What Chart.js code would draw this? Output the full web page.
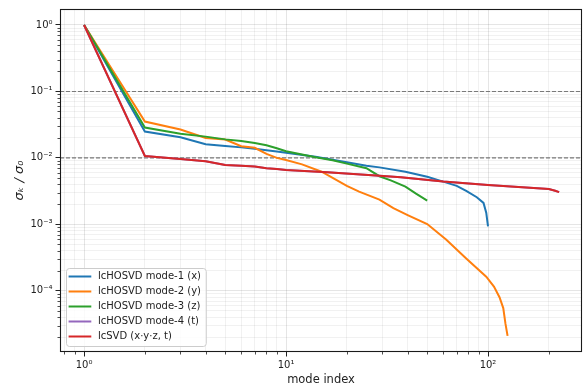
<!DOCTYPE html>
<html>
<head>
<meta charset="utf-8">
<script src="https://cdn.jsdelivr.net/npm/chart.js@4.4.1/dist/chart.umd.min.js"></script>
<style>
  html, body { margin: 0; padding: 0; background: #fff; }
  #wrap { width: 585px; height: 389px; }
</style>
</head>
<body>
<div id="wrap"><canvas id="chart"></canvas></div>
<script>
// normalised singular values
const mode1Idx = [1, 2, 3, 4, 5, 6, 7, 8, 9, 10, 14, 20, 25, 29, 39, 50, 60, 70, 78, 88, 95, 98, 100];
const mode1Val = [1.0, 0.0249, 0.0205, 0.0161, 0.0151, 0.0144, 0.0137, 0.0130, 0.0125, 0.0120, 0.0104, 0.0086, 0.0076, 0.0072, 0.0062, 0.0052, 0.0044, 0.0038, 0.0032, 0.00256, 0.0021, 0.0015, 0.00093];

const mode2Idx = [1, 2, 3, 4, 5, 6, 7, 8, 9, 10, 12, 15, 20, 23, 29, 34, 40, 50, 62, 78, 98, 107, 114, 119, 122, 125];
const mode2Val = [1.0, 0.0352, 0.0268, 0.0200, 0.0189, 0.0150, 0.0142, 0.0115, 0.0100, 0.0093, 0.0080, 0.0062, 0.0038, 0.0031, 0.00236, 0.00175, 0.00138, 0.00101, 0.00059, 0.000306, 0.000163, 0.000116, 0.00008, 0.000055, 0.000032, 0.000021];

const mode3Idx = [1, 2, 3, 4, 5, 6, 7, 8, 9, 10, 14, 17, 20, 25, 29, 33, 39, 44, 50];
const mode3Val = [1.0, 0.0286, 0.0230, 0.0209, 0.0190, 0.0180, 0.0168, 0.0155, 0.0140, 0.0126, 0.0102, 0.0092, 0.0082, 0.0070, 0.0053, 0.0046, 0.0037, 0.0029, 0.00228];

const svdIdx = [1, 2, 3, 4, 5, 6, 7, 8, 9, 10, 16, 29, 37, 60, 100, 200, 215, 225];
const svdVal = [1.0, 0.0107, 0.0096, 0.0089, 0.0078, 0.0076, 0.0074, 0.0070, 0.0068, 0.0066, 0.0061, 0.0054, 0.0051, 0.0044, 0.0039, 0.0034, 0.0032, 0.00305];

// mode-4 (t) unfolding has the same spectrum as lcSVD, so it sits under the red line
const mode4Idx = svdIdx;
const mode4Val = svdVal;

const seriesLabels = ['lcHOSVD mode-1 (x)', 'lcHOSVD mode-2 (y)', 'lcHOSVD mode-3 (z)', 'lcHOSVD mode-4 (t)', 'lcSVD (x\u00b7y\u00b7z, t)'];
const seriesColors = ['#1f77b4', '#ff7f0e', '#2ca02c', '#9467bd', '#d62728'];

const thresholds = [1e-1, 1e-2];

const xMajorTicks = [1, 10, 100];
const yMajorTicks = [1e-5, 1e-4, 1e-3, 1e-2, 1e-1, 1];
const xRange = [0.76, 292];
const yRange = [1.2e-5, 1.74];

const supers = { '-': '\u207b', '0': '\u2070', '1': '\u00b9', '2': '\u00b2', '3': '\u00b3', '4': '\u2074', '5': '\u2075' };
function powLabel(v) {
  const e = String(Math.round(Math.log10(v)));
  return '10' + e.split('').map(c => supers[c]).join('');
}

function toPoints(idx, val) {
  return idx.map((k, i) => ({ x: k, y: val[i] }));
}

// major + minor ticks on a log axis
function logTicks(majors, min, max) {
  const out = [];
  const lo = Math.floor(Math.log10(min)), hi = Math.ceil(Math.log10(max));
  for (let e = lo; e <= hi; e++) {
    for (let m = 1; m < 10; m++) {
      const v = m * Math.pow(10, e);
      if (v >= min && v <= max) {
        out.push({ value: v, major: m === 1 && majors.some(t => Math.abs(t - v) / v < 1e-9) });
      }
    }
  }
  return out;
}

const lineSets = [
  [mode1Idx, mode1Val], [mode2Idx, mode2Val], [mode3Idx, mode3Val], [mode4Idx, mode4Val], [svdIdx, svdVal]
].map(([idx, val], i) => ({
  label: seriesLabels[i],
  data: toPoints(idx, val),
  borderColor: seriesColors[i],
  backgroundColor: seriesColors[i],
  borderWidth: 2,
  pointRadius: 0,
  fill: false,
  order: 5 - i, // later series on top, like matplotlib
}));

const dashSets = thresholds.map(t => ({
  label: '',
  data: [{ x: xRange[0], y: t }, { x: xRange[1], y: t }],
  borderColor: '#7a7a7a',
  borderWidth: 1.1,
  borderDash: [4, 2],
  pointRadius: 0,
  fill: false,
  order: 10,
}));

const framePlugin = {
  id: 'frame',
  afterDraw(chart) {
    const { ctx, chartArea: a } = chart;
    ctx.save();

    // short minor ticks
    ctx.strokeStyle = '#222';
    ctx.lineWidth = 0.8;
    ctx.beginPath();
    chart.scales.x.ticks.forEach(t => {
      if (t.major) return;
      const px = Math.round(chart.scales.x.getPixelForValue(t.value)) + 0.5;
      ctx.moveTo(px, a.bottom);
      ctx.lineTo(px, a.bottom + 2.5);
    });
    chart.scales.y.ticks.forEach(t => {
      if (t.major) return;
      const py = Math.round(chart.scales.y.getPixelForValue(t.value)) + 0.5;
      ctx.moveTo(a.left, py);
      ctx.lineTo(a.left - 2.5, py);
    });
    ctx.stroke();

    ctx.strokeStyle = '#1a1a1a';
    ctx.lineWidth = 1.1;
    ctx.strokeRect(a.left + 0.5, a.top + 0.5, a.right - a.left - 1, a.bottom - a.top - 1);

    // legend, lower left inside the axes
    ctx.font = '10px "DejaVu Sans"';
    const textW = Math.max(...seriesLabels.map(s => ctx.measureText(s).width));
    const rowH = 15;
    const boxW = 2.6 + 22.7 + 7 + textW + 4.5;
    const boxH = rowH * seriesLabels.length + 3;
    const bx = a.left + 6, by = a.bottom - 6 - boxH;
    ctx.fillStyle = 'rgba(255,255,255,0.8)';
    ctx.strokeStyle = '#cccccc';
    ctx.lineWidth = 1;
    ctx.beginPath();
    ctx.roundRect(bx + 0.5, by + 0.5, boxW, boxH, 3);
    ctx.fill();
    ctx.stroke();
    seriesLabels.forEach((s, i) => {
      const cy = by + 8.5 + i * rowH;
      ctx.strokeStyle = seriesColors[i];
      ctx.lineWidth = 2;
      ctx.beginPath();
      ctx.moveTo(bx + 2.6, cy);
      ctx.lineTo(bx + 25.3, cy);
      ctx.stroke();
      ctx.fillStyle = '#222';
      ctx.textBaseline = 'middle';
      ctx.fillText(s, bx + 32, cy);
    });
    ctx.restore();
  }
};

const gridColor = (c) => c.tick && c.tick.major ? 'rgba(0,0,0,0.1)' : 'rgba(0,0,0,0.055)';
const tickColor = (c) => c.tick && c.tick.major ? '#222' : 'rgba(0,0,0,0)';

new Chart(document.getElementById('chart'), {
  type: 'line',
  data: { datasets: [...lineSets, ...dashSets] },
  options: {
    responsive: true,
    maintainAspectRatio: false,
    animation: false,
    layout: { padding: { top: 9, right: 3, left: 0, bottom: 0 } },
    plugins: {
      legend: { display: false },
      tooltip: { enabled: false },
    },
    scales: {
      x: {
        type: 'logarithmic',
        min: xRange[0],
        max: xRange[1],
        afterBuildTicks: (s) => { s.ticks = logTicks(xMajorTicks, xRange[0], xRange[1]); },
        afterFit: (s) => { s.height = 37; },
        grid: { color: gridColor, tickLength: 4.5, tickColor: tickColor, drawTicks: true },
        border: { display: false },
        ticks: {
          autoSkip: false,
          maxRotation: 0,
          padding: 3,
          color: '#222',
          font: { family: 'DejaVu Sans', size: 10 },
          callback: (v) => xMajorTicks.includes(v) ? powLabel(v) : '',
        },
        title: {
          display: true,
          text: 'mode index',
          color: '#222',
          font: { family: 'DejaVu Sans', size: 11.5 },
          padding: { top: 0, bottom: 2 },
        },
      },
      y: {
        type: 'logarithmic',
        min: yRange[0],
        max: yRange[1],
        afterBuildTicks: (s) => { s.ticks = logTicks(yMajorTicks, yRange[0], yRange[1]); },
        afterFit: (s) => { s.width = 60; },
        grid: { color: gridColor, tickLength: 4.5, tickColor: tickColor },
        border: { display: false },
        ticks: {
          autoSkip: false,
          padding: 3,
          color: '#222',
          font: { family: 'DejaVu Sans', size: 10 },
          callback: (v) => yMajorTicks.some(t => Math.abs(t - v) / v < 1e-9) ? powLabel(v) : '',
        },
        title: {
          display: true,
          text: '\u03c3\u2096 / \u03c3\u2080',
          color: '#222',
          font: { family: 'DejaVu Sans', size: 13, style: 'italic' },
          padding: { top: 12, bottom: 0 },
        },
      },
    },
  },
  plugins: [framePlugin],
});
</script>
</body>
</html>
